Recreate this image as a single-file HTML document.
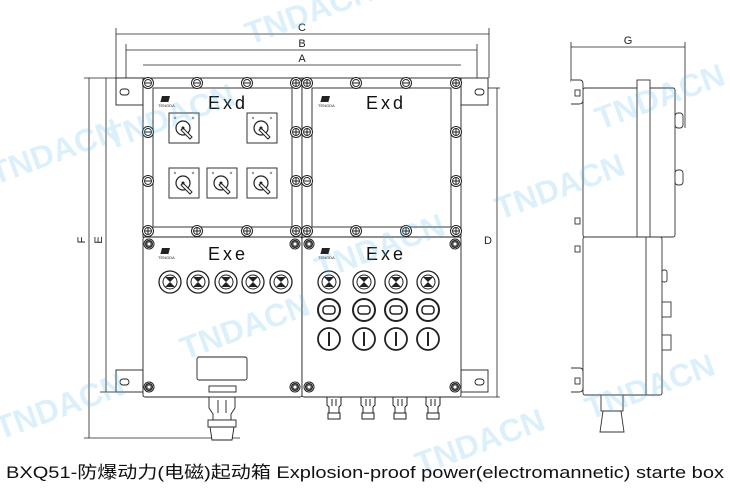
<!DOCTYPE html>
<html><head><meta charset="utf-8"><style>
html,body{margin:0;padding:0;background:#fff;width:730px;height:495px;overflow:hidden}
svg{display:block}
text{font-family:"Liberation Sans","Noto Sans CJK SC",sans-serif}
</style></head><body>
<svg width="730" height="495" viewBox="0 0 730 495" xmlns="http://www.w3.org/2000/svg">
<defs>
<g id="bolt"><circle r="5.5" fill="#fff" stroke="#222" stroke-width="1"/><circle r="3.5" fill="none" stroke="#222" stroke-width="0.9"/><line x1="-3" y1="0" x2="3" y2="0" stroke="#222"/></g>
<g id="bolt2"><circle r="5.5" fill="#fff" stroke="#222" stroke-width="1"/><circle r="3.5" fill="none" stroke="#222" stroke-width="0.9"/><line x1="-3" y1="0" x2="3" y2="0" stroke="#222"/><line x1="0" y1="-3" x2="0" y2="3" stroke="#222"/></g>
<g id="cb"><circle r="5" fill="#fff" stroke="#222"/><circle r="3.5" fill="#555" stroke="#222"/><circle r="1.5" fill="#fff"/></g>
<g id="sw"><rect x="-15" y="-15" width="30" height="30" fill="#fff" stroke="#333"/><circle cx="-9" cy="-10" r="1.2" fill="#999"/><circle cx="9" cy="-10" r="1.2" fill="#999"/><circle cx="-1" cy="0" r="7" fill="none" stroke="#222" stroke-width="1.2"/><path d="M-1 0 L8 9 L6 11 L-3 2Z" fill="#fff" stroke="#222"/><circle cx="-1" cy="0" r="1.5" fill="#222"/></g>
<g id="lamp"><circle r="11" fill="#fff" stroke="#222" stroke-width="1.3"/><circle r="7" fill="none" stroke="#222"/><path d="M-5 -5 L5 -5 L0 0 L5 5 L-5 5 L0 0Z" fill="#222"/></g>
<g id="btn"><circle r="11" fill="#fff" stroke="#222" stroke-width="2"/><rect x="-6" y="-4" width="12" height="8" rx="3" fill="none" stroke="#222" stroke-width="1.5"/></g>
<g id="key"><circle r="11" fill="#fff" stroke="#222" stroke-width="1.8"/><line x1="0" y1="-7" x2="0" y2="7" stroke="#222" stroke-width="2"/></g>
<g id="gl"><path d="M-7 0 L7 0 L7 8 L5 10 L5 16 L-5 16 L-5 10 L-7 8Z" fill="#fff" stroke="#222"/><rect x="-6" y="16" width="12" height="6" fill="#fff" stroke="#222"/><line x1="-2" y1="2" x2="-2" y2="9" stroke="#222"/><line x1="2" y1="2" x2="2" y2="9" stroke="#222"/></g>
<g id="logo"><rect x="2" y="0" width="8" height="6" fill="#222" transform="skewX(-15)"/><text x="-2" y="11" font-size="4" fill="#222">TENGDA</text></g>
</defs>
<g fill="none" stroke="#222" stroke-width="0.8">
<line x1="116" y1="34" x2="489" y2="34"/><line x1="126" y1="50" x2="477" y2="50"/><line x1="143" y1="65" x2="461" y2="65"/>
<line x1="116" y1="28" x2="116" y2="78"/><line x1="489" y1="28" x2="489" y2="78"/>
<line x1="126" y1="44" x2="126" y2="78"/><line x1="477" y1="44" x2="477" y2="78"/>
<line x1="89" y1="78" x2="89" y2="438"/><line x1="106" y1="78" x2="106" y2="392"/>
<line x1="84" y1="78" x2="143" y2="78"/><line x1="84" y1="438" x2="240" y2="438"/><line x1="100" y1="392" x2="116" y2="392"/>
<line x1="497" y1="88" x2="497" y2="397"/><line x1="488" y1="88" x2="500" y2="88"/><line x1="461" y1="397" x2="500" y2="397"/>
<line x1="571" y1="47" x2="685" y2="47"/><line x1="571" y1="42" x2="571" y2="82"/><line x1="685" y1="42" x2="685" y2="128"/>
</g>
<g font-size="11" fill="#222" text-anchor="middle">
<text x="302" y="31">C</text><text x="302" y="47">B</text><text x="302" y="62">A</text>
<text x="628" y="44">G</text>
<text x="85" y="240" transform="rotate(-90 85 240)">F</text>
<text x="102" y="240" transform="rotate(-90 102 240)">E</text>
<text x="488" y="244">D</text>
</g>
<g fill="#fff" stroke="#222" stroke-width="0.9">
<rect x="116" y="78" width="27" height="27"/><rect x="461" y="78" width="27" height="27"/>
<rect x="116" y="370" width="27" height="22"/><rect x="461" y="370" width="27" height="22"/>
<rect x="120" y="89" width="9" height="6" rx="3"/><rect x="475" y="89" width="9" height="6" rx="3"/>
<rect x="120" y="379" width="9" height="6" rx="3"/><rect x="475" y="379" width="9" height="6" rx="3"/>
<rect x="143" y="78" width="159" height="159"/><rect x="153" y="88" width="139" height="139"/>
<rect x="302" y="78" width="159" height="159"/><rect x="312" y="88" width="139" height="139"/>
<rect x="143" y="237" width="159" height="160" rx="2"/>
<rect x="302" y="237" width="159" height="160" rx="2"/>
<rect x="197" y="357" width="50" height="23" rx="2"/>
<rect x="209" y="386" width="27" height="6"/>
</g>
<g>
<use href="#bolt" x="148" y="83"/><use href="#bolt" x="197" y="83"/><use href="#bolt" x="247" y="83"/><use href="#bolt2" x="296" y="83"/>
<use href="#bolt" x="148" y="132"/><use href="#bolt" x="148" y="181"/><use href="#bolt2" x="148" y="231"/>
<use href="#bolt2" x="296" y="132"/><use href="#bolt2" x="296" y="181"/><use href="#bolt2" x="296" y="231"/>
<use href="#bolt2" x="197" y="231"/><use href="#bolt2" x="247" y="231"/>
<use href="#bolt2" x="307" y="83"/><use href="#bolt" x="356" y="83"/><use href="#bolt" x="406" y="83"/><use href="#bolt2" x="456" y="83"/>
<use href="#bolt2" x="307" y="132"/><use href="#bolt" x="307" y="181"/><use href="#bolt2" x="307" y="231"/>
<use href="#bolt2" x="456" y="132"/><use href="#bolt2" x="456" y="181"/><use href="#bolt2" x="456" y="231"/>
<use href="#bolt2" x="356" y="231"/><use href="#bolt2" x="406" y="231"/>
<use href="#cb" x="149" y="244"/><use href="#cb" x="295" y="244"/><use href="#cb" x="149" y="387"/><use href="#cb" x="295" y="387"/>
<use href="#cb" x="309" y="244"/><use href="#cb" x="455" y="244"/><use href="#cb" x="309" y="387"/><use href="#cb" x="455" y="387"/>
<use href="#sw" x="184" y="128"/><use href="#sw" x="262" y="128"/>
<use href="#sw" x="184" y="183"/><use href="#sw" x="222" y="183"/><use href="#sw" x="262" y="183"/>
<use href="#lamp" x="170" y="282"/><use href="#lamp" x="198" y="282"/><use href="#lamp" x="226" y="282"/><use href="#lamp" x="253" y="282"/><use href="#lamp" x="281" y="282"/>
<use href="#lamp" x="329" y="282"/><use href="#lamp" x="364" y="282"/><use href="#lamp" x="396" y="282"/><use href="#lamp" x="428" y="282"/>
<use href="#btn" x="329" y="310"/><use href="#btn" x="364" y="310"/><use href="#btn" x="396" y="310"/><use href="#btn" x="428" y="310"/>
<use href="#key" x="329" y="339"/><use href="#key" x="364" y="339"/><use href="#key" x="396" y="339"/><use href="#key" x="428" y="339"/>
<use href="#gl" x="334" y="397"/><use href="#gl" x="368" y="397"/><use href="#gl" x="400" y="397"/><use href="#gl" x="433" y="397"/>
<use href="#logo" x="160" y="96"/><use href="#logo" x="320" y="96"/><use href="#logo" x="160" y="248"/><use href="#logo" x="320" y="248"/>
</g>
<g fill="#fff" stroke="#222" stroke-width="0.9">
<path d="M209 397 L235 397 L235 408 L231 414 L231 420 L213 420 L213 414 L209 408Z"/>
<rect x="208" y="420" width="28" height="7"/><path d="M210 427 L234 427 L232 440 L212 440Z"/>
<line x1="218" y1="400" x2="218" y2="413"/><line x1="226" y1="400" x2="226" y2="413"/>
</g>
<g font-size="18" fill="#111" letter-spacing="3">
<text x="208" y="109">Exd</text><text x="366" y="109">Exd</text>
<text x="208" y="260">Exe</text><text x="366" y="260">Exe</text>
</g>
<g fill="#fff" stroke="#333" stroke-width="0.9">
<rect x="583" y="88" width="92" height="149" rx="2"/>
<rect x="637" y="80" width="13" height="157"/>
<rect x="583" y="237" width="79" height="158" rx="2"/>
<line x1="646" y1="237" x2="646" y2="395"/>
<path d="M571 80 L580 80 Q583 80 583 84 L583 100 Q583 104 579 104 L571 104"/>
<path d="M571 368 L580 368 Q583 368 583 372 L583 388 Q583 392 579 392 L571 392"/>
<rect x="575" y="90" width="5" height="6"/><rect x="575" y="378" width="5" height="6"/>
<rect x="575" y="218" width="5" height="6"/><rect x="575" y="246" width="5" height="6"/>
<rect x="675" y="113" width="8" height="15" rx="3"/><rect x="675" y="170" width="8" height="15" rx="3"/>
<rect x="662" y="270" width="5" height="12" rx="2"/><rect x="662" y="302" width="9" height="15"/><rect x="662" y="335" width="9" height="15"/>
<rect x="601" y="395" width="22" height="16"/><path d="M603 411 L621 411 L624 432 L600 432Z"/>
</g>
<g font-size="32" font-weight="bold" fill="#4fb6e8" opacity="0.2" font-family="Liberation Sans,sans-serif">
<text x="0" y="0" transform="translate(-5,185) rotate(-20)">TNDACN</text>
<text x="0" y="0" transform="translate(110,150) rotate(-20)">TNDACN</text>
<text x="0" y="0" transform="translate(185,360) rotate(-20)">TNDACN</text>
<text x="0" y="0" transform="translate(320,280) rotate(-20)">TNDACN</text>
<text x="0" y="0" transform="translate(500,220) rotate(-20)">TNDACN</text>
<text x="0" y="0" transform="translate(600,130) rotate(-20)">TNDACN</text>
<text x="0" y="0" transform="translate(590,420) rotate(-20)">TNDACN</text>
<text x="0" y="0" transform="translate(0,440) rotate(-20)">TNDACN</text>
<text x="0" y="0" transform="translate(420,475) rotate(-20)">TNDACN</text>
<text x="0" y="0" transform="translate(250,45) rotate(-20)">TNDACN</text>
</g>
<text x="6" y="478" font-size="17" fill="#111" textLength="718" lengthAdjust="spacingAndGlyphs">BXQ51-防爆动力(电磁)起动箱 Explosion-proof power(electromannetic) starte box</text>
</svg>
</body></html>
